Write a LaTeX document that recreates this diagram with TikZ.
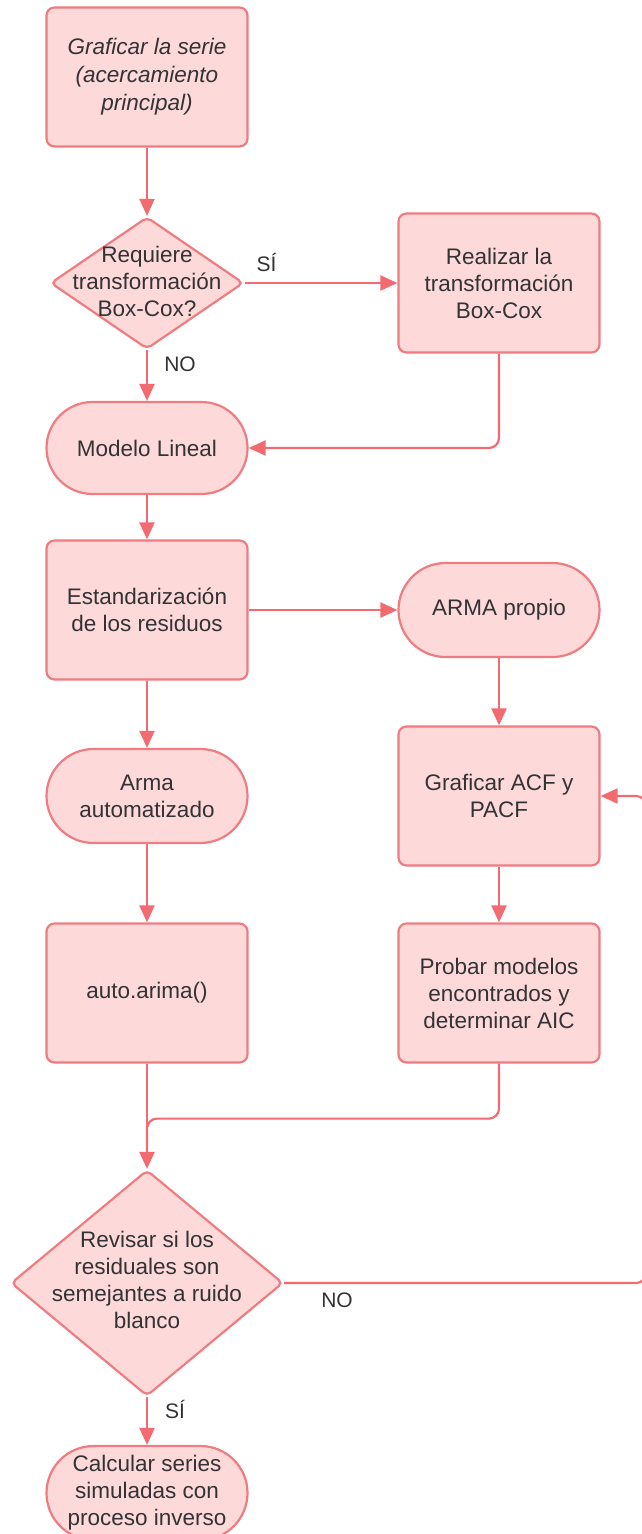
\documentclass[tikz,border=0pt]{standalone}
\usepackage{fontspec}
\setmainfont{Liberation Sans}
\usetikzlibrary{shapes.geometric,arrows.meta,calc}
\definecolor{fillc}{HTML}{FDD9DA}
\definecolor{bord}{HTML}{EE7C81}
\definecolor{linec}{HTML}{F26B70}
\definecolor{txt}{HTML}{333333}
\tikzset{
  lbl/.style={text=txt, font=\fontsize{22.5}{27}\selectfont, align=center, inner sep=0pt},
  box/.style={lbl, draw=bord, fill=fillc, line width=2.2pt, rounded corners=8pt,
              minimum width=201pt, minimum height=139pt},
  stad/.style={box, rounded corners=46pt, minimum height=93pt},
  dia/.style={diamond, draw=bord, fill=fillc, line width=2.2pt, rounded corners=5pt, inner sep=0pt},
  conn/.style={draw=linec, line width=2.2pt, -{Triangle[length=17pt,width=15pt]}},
  plain/.style={draw=linec, line width=2.2pt},
  edgelbl/.style={text=txt, font=\fontsize{21}{25}\selectfont, inner sep=0pt}
}
\begin{document}
\begin{tikzpicture}[x=1pt,y=-1pt]
\useasboundingbox (0,0) rectangle (642,1534);

\node[box, font=\fontsize{22.5}{28}\selectfont\itshape] (top) at (147,77) {Graficar la serie\\(acercamiento\\principal)};
\node[dia, minimum width=193pt, minimum height=132pt] (d1) at (147,283) {};
\node[lbl] (d1t) at (147,281) {Requiere\\transformación\\Box-Cox?};
\node[box] (real) at (499,283) {Realizar la\\transformación\\Box-Cox};
\node[stad, minimum height=92pt] (mod) at (147,448) {Modelo Lineal};
\node[box] (est) at (147,610) {Estandarización\\de los residuos};
\node[stad, minimum height=94pt, rounded corners=47pt] (arma) at (499,610) {ARMA propio};
\node[box] (acf) at (499,796) {Graficar ACF y\\PACF};
\node[stad, minimum height=94pt, rounded corners=47pt] (armaut) at (147,796) {Arma\\automatizado};
\node[box] (auto) at (147,993) {auto.arima()};
\node[box] (prob) at (499,993) {Probar modelos\\encontrados y\\determinar AIC};
\node[dia, minimum width=272pt, minimum height=226pt] (d2) at (147,1283) {};
\node[lbl] (d2t) at (147,1280) {Revisar si los\\residuales son\\semejantes a ruido\\blanco};
\node[stad, minimum height=94pt, rounded corners=47pt] (calc) at (147,1493) {Calcular series\\simuladas con\\proceso inverso};

\draw[conn] (top.south) -- (d1.north);
\draw[conn] (d1.east) -- (real.west) node[edgelbl, pos=0, xshift=22pt, yshift=21pt] {SÍ};
\draw[conn] (d1.south) -- (mod.north) node[edgelbl, pos=0, xshift=33pt, yshift=-14pt] {NO};
\draw[conn, rounded corners=10pt] (real.south) |- (mod.east);
\draw[conn] (mod.south) -- (est.north);
\draw[conn] (est.east) -- (arma.west);
\draw[conn] (arma.south) -- (acf.north);
\draw[conn] (est.south) -- (armaut.north);
\draw[conn] (acf.south) -- (prob.north);
\draw[conn] (armaut.south) -- (auto.north);
\draw[conn] (auto.south) -- (d2.north);
\draw[plain, rounded corners=10pt] (prob.south) |- ([yshift=-55pt]auto.south) -- ([yshift=-85pt]auto.south);
\draw[conn, rounded corners=10pt] (d2.east) -- ++(362,0) |- (acf.east);
\node[edgelbl] (nolbl) at (337,1300) {NO};
\draw[conn] (d2.south) -- (calc.north) node[edgelbl, pos=0, xshift=28pt, yshift=-12pt] {SÍ};
\end{tikzpicture}
\end{document}
